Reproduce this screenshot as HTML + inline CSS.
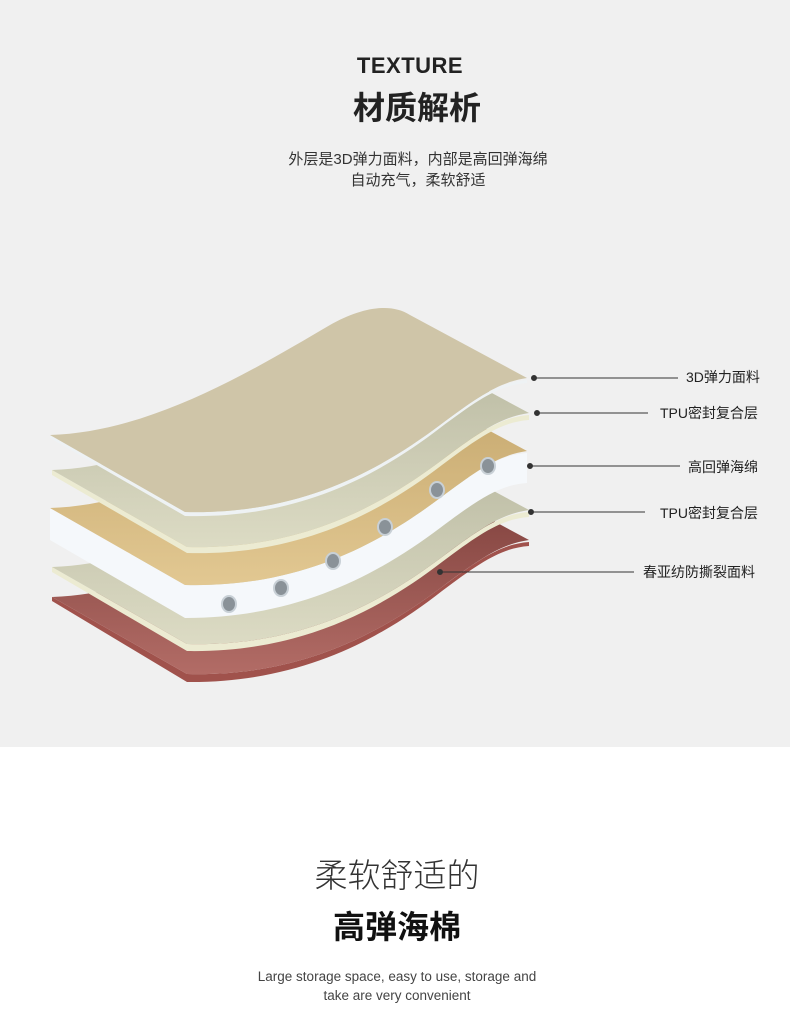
<!DOCTYPE html>
<html><head><meta charset="utf-8"><style>
body{margin:0;width:790px;height:1026px;background:#fff;font-family:"Liberation Sans","Noto Sans CJK SC",sans-serif;position:relative;overflow:hidden}
.top{position:absolute;left:0;top:0;width:790px;height:747px;background:#f0f0f0}
.t{position:absolute;white-space:nowrap;color:#222}
.c{transform:translateX(-50%)}
</style></head><body>
<div class="top"></div>
<div class="t c" style="left:410px;top:53px;font-size:22px;font-weight:bold;letter-spacing:0.5px">TEXTURE</div>
<div class="t c" style="left:417px;top:83px;font-size:32px;font-weight:bold">材质解析</div>
<div class="t c" style="left:418px;top:148px;font-size:15px;color:#333">外层是3D弹力面料，内部是高回弹海绵</div>
<div class="t c" style="left:418px;top:169px;font-size:15px;color:#333">自动充气，柔软舒适</div>

<svg style="position:absolute;left:0;top:0" width="790" height="747">
<defs>
<path id="surf" d="M50,435 C150,432 250,372 330,325 C360,308 390,302 410,315 L527,378 C500,382 480,395 440,425 C380,470 300,515 185,512 Z"/>
<linearGradient id="g2" x1="0" y1="0" x2="0" y2="1"><stop offset="0" stop-color="#b8b8a0"/><stop offset="1" stop-color="#dcdbc4"/></linearGradient>
<linearGradient id="gr" x1="0" y1="0" x2="0" y2="1"><stop offset="0" stop-color="#7a3c38"/><stop offset="1" stop-color="#b26c66"/></linearGradient>
<linearGradient id="gf" x1="0" y1="0" x2="0" y2="1"><stop offset="0" stop-color="#c4a66c"/><stop offset="1" stop-color="#e2c892"/></linearGradient>
</defs>
<g transform="translate(2,162)">
<path d="M50,435 L185,512 C300,515 380,470 440,425 C480,395 500,382 527,380 L527,384 C500,386 480,399 440,429 C380,476 300,521 185,520 L50,439 Z" fill="#a0524c"/>
<use href="#surf" fill="url(#gr)"/>
</g>
<g transform="translate(2,132)">
<path d="M50,435 L185,512 C300,515 380,470 440,425 C480,395 500,382 527,380 L527,385 C500,387 480,400 440,430 C380,476 300,521 185,519 L50,440 Z" fill="#ecebd2"/>
<use href="#surf" fill="url(#g2)"/>
</g>
<g transform="translate(0,73)">
<path d="M50,435 L185,512 C300,515 380,470 440,425 C480,395 500,382 527,380 L527,410 C500,412 480,425 440,455 C380,500 300,545 185,545 L50,467 Z" fill="#f5f8fb"/>
<use href="#surf" fill="url(#gf)"/>
</g>
<g fill="#8a9298" stroke="#c8d0d6" stroke-width="2">
<ellipse cx="229" cy="604" rx="7" ry="8"/><ellipse cx="281" cy="588" rx="7" ry="8"/><ellipse cx="333" cy="561" rx="7" ry="8"/><ellipse cx="385" cy="527" rx="7" ry="8"/><ellipse cx="437" cy="490" rx="7" ry="8"/><ellipse cx="488" cy="466" rx="7" ry="8"/>
</g>
<g transform="translate(2,35)">
<path d="M50,435 L185,512 C300,515 380,470 440,425 C480,395 500,382 527,380 L527,385 C500,387 480,400 440,430 C380,476 300,521 185,518 L50,440 Z" fill="#ecebd2"/>
<use href="#surf" fill="url(#g2)"/>
</g>
<g>
<path d="M50,435 L185,512 C300,515 380,470 440,425 C480,395 500,382 527,380 L527,383 C500,385 480,398 440,428 C380,474 300,519 185,516 L50,438 Z" fill="#eef2f4"/>
<use href="#surf" fill="#cfc5a8"/>
</g>
<g stroke="#333" stroke-width="1" fill="#333">
<line x1="534" y1="378" x2="678" y2="378"/><circle cx="534" cy="378" r="2.5"/>
<line x1="537" y1="413" x2="648" y2="413"/><circle cx="537" cy="413" r="2.5"/>
<line x1="530" y1="466" x2="680" y2="466"/><circle cx="530" cy="466" r="2.5"/>
<line x1="531" y1="512" x2="645" y2="512"/><circle cx="531" cy="512" r="2.5"/>
<line x1="440" y1="572" x2="634" y2="572"/><circle cx="440" cy="572" r="2.5"/>
</g>
</svg>
<div class="t" style="left:686px;top:367px;font-size:14px">3D弹力面料</div>
<div class="t" style="left:660px;top:403px;font-size:14px">TPU密封复合层</div>
<div class="t" style="left:688px;top:457px;font-size:14px">高回弹海绵</div>
<div class="t" style="left:660px;top:503px;font-size:14px">TPU密封复合层</div>
<div class="t" style="left:643px;top:562px;font-size:14px">春亚纺防撕裂面料</div>

<div class="t c" style="left:397px;top:849px;font-size:33px;font-weight:300;color:#333">柔软舒适的</div>
<div class="t c" style="left:397px;top:902px;font-size:32px;font-weight:bold;color:#111">高弹海棉</div>
<div class="t c" style="left:397px;top:969px;font-size:13.5px;color:#444">Large storage space, easy to use, storage and</div>
<div class="t c" style="left:397px;top:988px;font-size:13.5px;color:#444">take are very convenient</div>
</body></html>
